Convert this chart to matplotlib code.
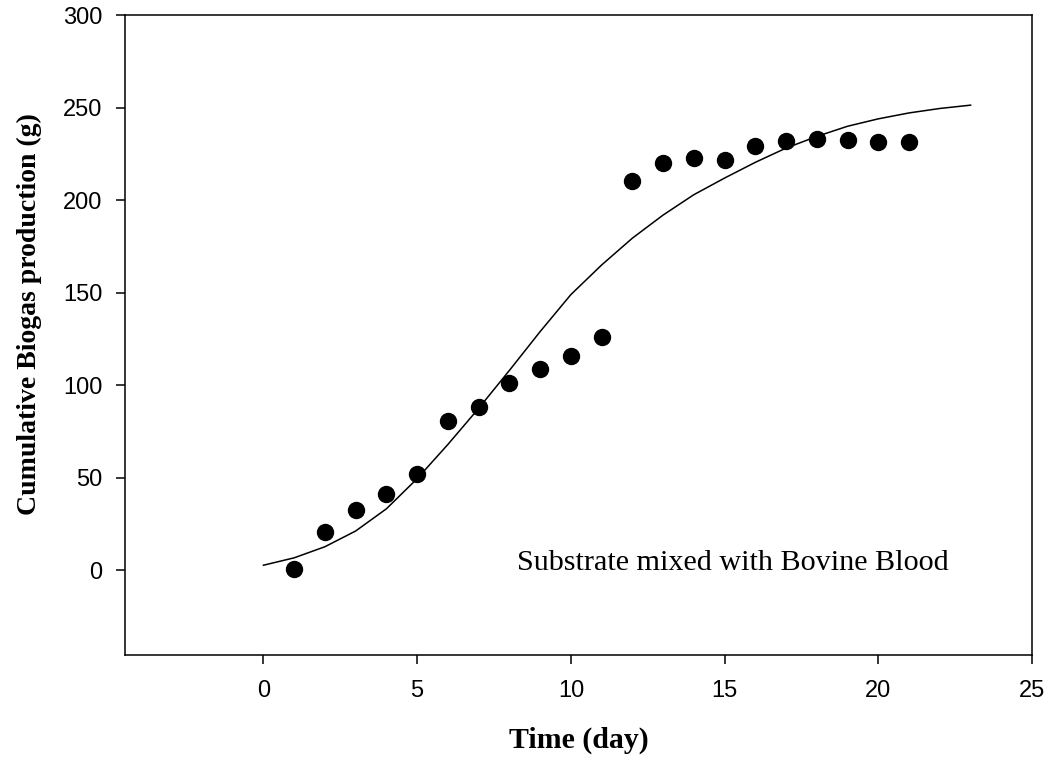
import matplotlib
matplotlib.use("Agg")
import matplotlib.pyplot as plt

# measured points
day = [1, 2, 3, 4, 5, 6, 7, 8, 9, 10, 11, 12, 13, 14, 15, 16, 17, 18, 19, 20, 21]
biogas = [0.4, 20.6, 32.8, 41, 52, 80.7, 88, 101, 109, 116, 125.8, 210.3, 220.2,
          223, 222, 229.5, 232, 233.3, 232.4, 231.5, 231.5]

# fitted curve at each day
fit_day = list(range(0, 24))
fit_val = [2.7, 6.7, 12.7, 21.2, 33.2, 49.5, 68, 87.5, 108, 129, 149, 165, 179.5,
           192, 203, 212, 220.5, 228.2, 234.5, 240, 244, 247.2, 249.6, 251.4]

fig = plt.figure(figsize=(10.51, 7.62), dpi=100)
ax = fig.add_axes([0.119, 0.14, 0.863, 0.84])

ax.plot(fit_day, fit_val, color='black', lw=1.1)
ax.plot(day, biogas, 'o', color='black', ms=11.5)

ax.set_xlim(-4.5, 25)
ax.set_ylim(-46, 300)
ax.set_xticks([0, 5, 10, 15, 20, 25])
ax.set_yticks([0, 50, 100, 150, 200, 250, 300])

for lab in ax.get_xticklabels() + ax.get_yticklabels():
    lab.set_fontfamily('Liberation Sans')
    lab.set_fontsize(17)
ax.tick_params(axis='x', direction='out', length=6.5, width=1.1, pad=11)
ax.tick_params(axis='y', direction='out', length=6.5, width=1.1, pad=10)
for s in ax.spines.values():
    s.set_linewidth(1.1)

ax.set_xlabel('Time (day)', family='Liberation Serif', fontweight='bold',
              fontsize=21.5, labelpad=18)
ax.set_ylabel('Cumulative Biogas production (g)', family='Liberation Serif',
              fontweight='bold', fontsize=20)
ax.yaxis.set_label_coords(-0.092, 0.533)

ax.text(8.25, 0, 'Substrate mixed with Bovine Blood', family='Liberation Serif',
        fontsize=21.7, ha='left', va='baseline')

fig.savefig('out.png', dpi=100)
